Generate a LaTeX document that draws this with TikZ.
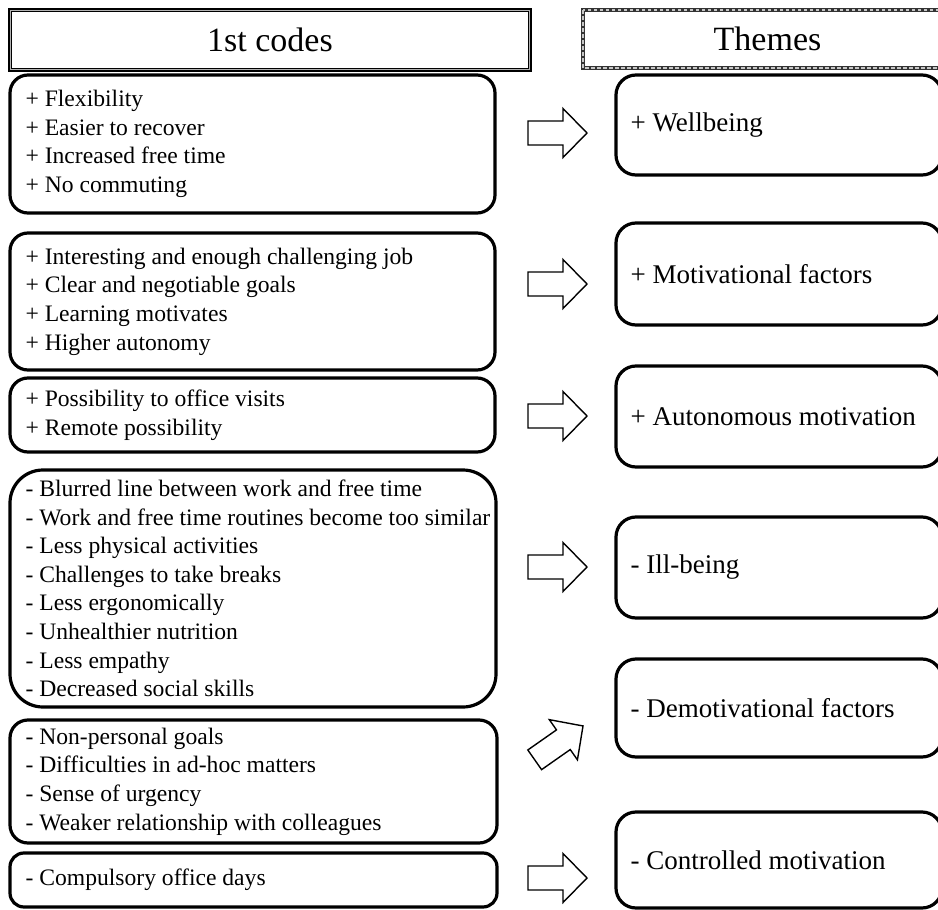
\documentclass[tikz,border=0pt]{standalone}
\usepackage{fontspec}
\setmainfont{Liberation Serif}
\begin{document}
\begin{tikzpicture}[x=1pt,y=-1pt,
  codebox/.style={draw, line width=3.2pt, rounded corners=18pt, minimum width=485pt, inner sep=0pt},
  codetext/.style={anchor=west, align=left, inner sep=0pt, font=\fontsize{23.6}{28.6}\selectfont},
  themebox/.style={draw, line width=3.2pt, rounded corners=20pt, minimum width=326pt, inner sep=0pt},
  themetext/.style={anchor=west, inner sep=0pt, font=\fontsize{27}{32}\selectfont},
  hdrfont/.style={font=\fontsize{34}{40}\selectfont},
  arrowline/.style={draw, line width=1.4pt, fill=white, line join=miter},
  blockarrow/.pic={\draw[arrowline] (0,-12) -- (35,-12) -- (35,-24.5) -- (59,0) -- (35,24.5) -- (35,12) -- (0,12) -- cycle;}
]
\useasboundingbox (0,0) rectangle (938,910);
\clip (0,0) rectangle (938,910);
\fill[white] (0,0) rectangle (938,910);

% headers
\node[draw, line width=4.5pt, minimum width=520pt, minimum height=60pt, inner sep=0pt] (h1) at (270,40) {};
\draw[line width=0.8pt, gray!60] ([shift={(3pt,-3pt)}]h1.north west) rectangle ([shift={(-3pt,3pt)}]h1.south east);
\node[hdrfont, inner sep=0pt] (h1t) at (h1.center) {1st codes};
\draw[line width=3.6pt, black!80] (583,10) rectangle (952,68);
\draw[line width=1.6pt, gray!45, dash pattern=on 3.5pt off 2.5pt] (583,10) rectangle (952,68);
\node[minimum width=369pt, minimum height=58pt, inner sep=0pt] (h2) at (767.5,39) {};
\node[hdrfont, inner sep=0pt] (h2t) at (h2.center) {Themes};

% code boxes
\node[codebox, minimum height=138pt] (c1) at (252.5,144) {};
\node[codetext] (c1t) at ([xshift=17pt]c1.west) {+ Flexibility\\+ Easier to recover\\+ Increased free time\\+ No commuting};
\node[codebox, minimum height=137pt] (c2) at (252.5,301.5) {};
\node[codetext] (c2t) at ([xshift=17pt]c2.west) {+ Interesting and enough challenging job\\+ Clear and negotiable goals\\+ Learning motivates\\+ Higher autonomy};
\node[codebox, minimum height=74pt] (c3) at (252.5,415) {};
\node[codetext] (c3t) at ([xshift=17pt]c3.west) {+ Possibility to office visits\\+ Remote possibility};
\node[codebox, rounded corners=33pt, minimum width=486pt, minimum height=237pt] (c4) at (253,588.5) {};
\node[codetext] (c4t) at ([xshift=17pt]c4.west) {- Blurred line between work and free time\\- Work and free time routines become too similar\\- Less physical activities\\- Challenges to take breaks\\- Less ergonomically\\- Unhealthier nutrition\\- Less empathy\\- Decreased social skills};
\node[codebox, minimum width=487pt, minimum height=123pt] (c5) at (253.5,781.5) {};
\node[codetext] (c5t) at ([xshift=17pt]c5.west) {- Non-personal goals\\- Difficulties in ad-hoc matters\\- Sense of urgency\\- Weaker relationship with colleagues};
\node[codebox, rounded corners=14pt, minimum width=487pt, minimum height=54pt] (c6) at (253.5,880) {};
\node[codetext] (c6t) at ([xshift=17pt]c6.west) {- Compulsory office days};

% theme boxes
\node[themebox, minimum height=100pt] (t1) at (779,125) {};
\node[themetext] (t1t) at ([xshift=16pt]t1.west) {+ Wellbeing};
\node[themebox, minimum height=102pt] (t2) at (779,274) {};
\node[themetext] (t2t) at ([xshift=16pt]t2.west) {+ Motivational factors};
\node[themebox, minimum height=101pt] (t3) at (779,416.5) {};
\node[themetext] (t3t) at ([xshift=16pt]t3.west) {+ Autonomous motivation};
\node[themebox, minimum height=101pt] (t4) at (779,567.5) {};
\node[themetext] (t4t) at ([xshift=16pt]t4.west) {- Ill-being};
\node[themebox, minimum height=98pt] (t5) at (779,708) {};
\node[themetext] (t5t) at ([xshift=16pt]t5.west) {- Demotivational factors};
\node[themebox, minimum height=96pt] (t6) at (779,860) {};
\node[themetext] (t6t) at ([xshift=16pt]t6.west) {- Controlled motivation};

% block arrows
\pic at (528,133) {blockarrow};
\pic at (528,284) {blockarrow};
\pic at (528,416) {blockarrow};
\pic at (528,567) {blockarrow};
\pic[rotate=35] at (534.7,759.8) {blockarrow};
\pic at (528,878) {blockarrow};
\end{tikzpicture}
\end{document}
